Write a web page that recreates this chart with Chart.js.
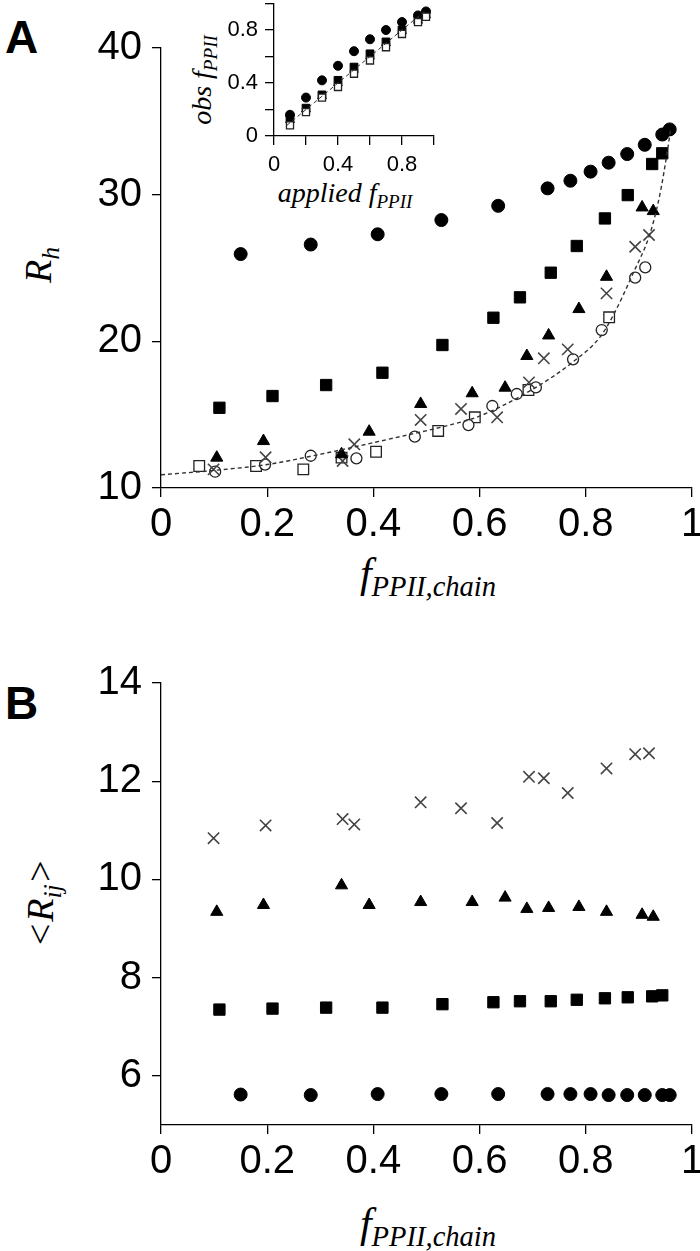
<!DOCTYPE html>
<html>
<head>
<meta charset="utf-8">
<script src="https://cdn.jsdelivr.net/npm/chart.js@4.4.1/dist/chart.umd.min.js"></script>
<style>
  body { margin: 0; width: 700px; height: 1251px; overflow: hidden; background: #fff; position: relative; }
  canvas { position: absolute; }
  .panel { position: absolute; font: bold 46px "Liberation Sans", Arial, sans-serif; line-height: 1; }
  .lbl { position: absolute; white-space: nowrap; font-family: "Liberation Serif", "Times New Roman", serif;
         font-style: italic; line-height: 1; transform: translate(-50%, -50%); }
  .rot { transform: translate(-50%, -50%) rotate(-90deg); }
  .lbl sub { font-size: 0.68em; line-height: 0; vertical-align: -0.32em; }
</style>
</head>
<body>
<div class="panel" style="left:5px;top:14px">A</div>
<div class="panel" style="left:5px;top:680px">B</div>

<div class="lbl rot" style="left:38px;top:265px;font-size:38px">R<sub>h</sub></div>
<div class="lbl" style="left:428px;top:573px;font-size:42px">f<sub>PPII,chain</sub></div>
<div class="lbl rot" style="left:202px;top:80px;font-size:28px">obs f<sub>PPII</sub></div>
<div class="lbl" style="left:345px;top:193px;font-size:28px">applied f<sub>PPII</sub></div>
<div class="lbl rot" style="left:40px;top:903px;font-size:38px">&lt;R<sub>ij</sub>&gt;</div>
<div class="lbl" style="left:428px;top:1223px;font-size:42px">f<sub>PPII,chain</sub></div>

<canvas id="chartA" width="720" height="620" style="left:0;top:0"></canvas>
<canvas id="chartInset" width="300" height="230" style="left:160px;top:-20px"></canvas>
<canvas id="chartB" width="720" height="651" style="left:0;top:600px"></canvas>

<script>
// tick labels
const fTicks = [0, 0.2, 0.4, 0.6, 0.8, 1];
const rhTicks = [10, 20, 30, 40];
const rijTicks = [6, 8, 10, 12, 14];
const insetTicks = [0, 0.2, 0.4, 0.6, 0.8, 1];
const insetLabels = [0, 0.4, 0.8];

// filled circles
const circX   = [0.15, 0.282, 0.408, 0.528, 0.635, 0.728, 0.771, 0.809, 0.843, 0.878, 0.911, 0.944, 0.958];
const circRh  = [25.95, 26.6, 27.3, 28.27, 29.24, 30.43, 30.95, 31.57, 32.18, 32.77, 33.4, 34.1, 34.45];
const circRij = [5.62, 5.61, 5.63, 5.63, 5.63, 5.63, 5.63, 5.63, 5.61, 5.61, 5.61, 5.61, 5.61];

// filled squares
const sqX   = [0.11, 0.21, 0.311, 0.417, 0.53, 0.626, 0.676, 0.734, 0.783, 0.836, 0.879, 0.925, 0.944];
const sqRh  = [15.47, 16.27, 17.02, 17.86, 19.75, 21.61, 23.0, 24.68, 26.5, 28.38, 29.97, 32.09, 32.82];
const sqRij = [7.35, 7.37, 7.39, 7.39, 7.46, 7.50, 7.52, 7.52, 7.55, 7.58, 7.60, 7.62, 7.64];

// filled triangles
const triX   = [0.105, 0.193, 0.340, 0.392, 0.489, 0.586, 0.648, 0.689, 0.730, 0.787, 0.839, 0.906, 0.927];
const triRh  = [12.07, 13.2, 12.3, 13.84, 15.73, 16.46, 16.84, 19.0, 20.4, 22.2, 24.4, 29.13, 28.88];
const triRij = [9.34, 9.48, 9.88, 9.48, 9.54, 9.54, 9.63, 9.40, 9.42, 9.44, 9.34, 9.28, 9.24];

// crosses
const crX   = [0.099, 0.197, 0.342, 0.364, 0.489, 0.565, 0.633, 0.693, 0.721, 0.766, 0.839, 0.893, 0.919];
const crRh  = [11.27, 12.09, 11.84, 12.98, 14.64, 15.39, 14.82, 17.2, 18.84, 19.45, 23.27, 26.45, 27.25];
const crRij = [10.84, 11.10, 11.23, 11.12, 11.57, 11.45, 11.15, 12.09, 12.06, 11.76, 12.26, 12.55, 12.57];

// open circles (A only)
const ocX  = [0.102, 0.196, 0.282, 0.368, 0.478, 0.579, 0.624, 0.670, 0.706, 0.776, 0.830, 0.893, 0.912];
const ocRh = [11.11, 11.6, 12.2, 12.02, 13.5, 14.29, 15.59, 16.41, 16.86, 18.77, 20.77, 24.34, 25.04];

// open squares (A only)
const osX  = [0.072, 0.179, 0.268, 0.340, 0.405, 0.522, 0.591, 0.692, 0.844];
const osRh = [11.5, 11.5, 11.27, 12.07, 12.47, 13.89, 14.82, 16.68, 21.64];

// dashed fit curve in A
const fitX  = [0, 0.1, 0.2, 0.28, 0.45, 0.544, 0.6, 0.7, 0.776, 0.827, 0.852, 0.889, 0.921, 0.94, 0.952, 0.96];
const fitRh = [10.9, 11.2, 11.6, 12.15, 13.5, 14.3, 14.9, 16.73, 18.6, 20.3, 21.8, 24.63, 27.36, 30.1, 32.6, 34.5];

// inset: applied vs observed f_PPII
const appliedF  = [0.1, 0.2, 0.3, 0.4, 0.5, 0.6, 0.7, 0.8, 0.9, 0.95];
const obsCirc   = [0.16, 0.29, 0.42, 0.53, 0.64, 0.73, 0.80, 0.86, 0.91, 0.94];
const obsSq     = [0.13, 0.21, 0.31, 0.42, 0.52, 0.62, 0.71, 0.80, 0.88, 0.92];
const obsTri    = [0.12, 0.20, 0.30, 0.40, 0.50, 0.60, 0.70, 0.79, 0.87, 0.91];
const obsOpenSq = [0.08, 0.18, 0.29, 0.37, 0.47, 0.57, 0.67, 0.77, 0.86, 0.90];
const diagX = [0.08, 0.95];
const diagY = [0.08, 0.95];

const pts = (xs, ys) => xs.map((x, i) => ({ x: x, y: ys[i] }));

function marks(xs, ys, style, r) {
  const base = { data: pts(xs, ys), clip: false, pointRadius: r, pointHoverRadius: r, borderWidth: 1 };
  if (style == 'circ') return Object.assign(base, { pointStyle: 'circle', backgroundColor: '#000', borderColor: '#000' });
  if (style == 'sq') return Object.assign(base, { pointStyle: 'rect', backgroundColor: '#000', borderColor: '#000' });
  if (style == 'tri') return Object.assign(base, { pointStyle: 'triangle', backgroundColor: '#000', borderColor: '#000' });
  if (style == 'cross') return Object.assign(base, { pointStyle: 'crossRot', backgroundColor: '#444', borderColor: '#444', borderWidth: 1.6 });
  if (style == 'ocirc') return Object.assign(base, { pointStyle: 'circle', backgroundColor: '#fff', borderColor: '#222', borderWidth: 1.3 });
  if (style == 'osq') return Object.assign(base, { pointStyle: 'rect', backgroundColor: '#fff', borderColor: '#222', borderWidth: 1.3 });
}

function dashed(xs, ys, w) {
  return { data: pts(xs, ys), showLine: true, pointRadius: 0, borderColor: '#333', borderWidth: w,
           borderDash: [4, 3], cubicInterpolationMode: 'monotone', clip: false };
}

function axis(min, max, ticks, labels, fontSize, pad, fit, vertical) {
  return {
    type: 'linear', min: min, max: max,
    afterBuildTicks: s => { s.ticks = ticks.map(v => ({ value: v })); },
    afterFit: s => { if (vertical) s.width = fit; else s.height = fit; },
    ticks: {
      color: '#000', padding: pad, maxRotation: 0, autoSkip: false,
      font: { family: '"Liberation Sans", Arial, sans-serif', size: fontSize },
      callback: v => labels.includes(v) ? String(v) : ''
    },
    grid: { drawOnChartArea: false, drawTicks: true, tickLength: 9, color: '#000', lineWidth: 1.3 },
    border: { display: true, color: '#000', width: 1.3 }
  };
}

function opts(pad, xAxis, yAxis) {
  return {
    responsive: false, animation: false,
    layout: { padding: pad },
    plugins: { legend: { display: false }, tooltip: { enabled: false } },
    scales: { x: xAxis, y: yAxis }
  };
}

new Chart(document.getElementById('chartA'), {
  type: 'scatter',
  data: { datasets: [
    dashed(fitX, fitRh, 1.4),
    marks(circX, circRh, 'circ', 6.5),
    marks(sqX, sqRh, 'sq', 8),
    marks(triX, triRh, 'tri', 7),
    marks(crX, crRh, 'cross', 8),
    marks(ocX, ocRh, 'ocirc', 5.5),
    marks(osX, osRh, 'osq', 7.5)
  ] },
  options: opts({ left: 0, top: 48, right: 28, bottom: 0 },
    axis(0, 1, fTicks, fTicks, 40, 4, 132, false),
    axis(10, 40, rhTicks, rhTicks, 40, 10, 161, true))
});

new Chart(document.getElementById('chartInset'), {
  type: 'scatter',
  data: { datasets: [
    dashed(diagX, diagY, 1),
    marks(appliedF, obsOpenSq, 'osq', 5),
    marks(appliedF, obsTri, 'tri', 5),
    marks(appliedF, obsSq, 'sq', 5.5),
    marks(appliedF, obsCirc, 'circ', 4.5)
  ] },
  options: opts({ left: 0, top: 23.5, right: 26, bottom: 0 },
    axis(0, 1, insetTicks, insetLabels, 22, 7, 74, false),
    axis(0, 1, insetTicks, insetLabels, 22, 7, 114, true))
});

new Chart(document.getElementById('chartB'), {
  type: 'scatter',
  data: { datasets: [
    marks(circX, circRij, 'circ', 6.5),
    marks(sqX, sqRij, 'sq', 8),
    marks(triX, triRij, 'tri', 7),
    marks(crX, crRij, 'cross', 8)
  ] },
  options: opts({ left: 0, top: 83, right: 28, bottom: 0 },
    axis(0, 1, fTicks, fTicks, 40, 4, 126, false),
    axis(5, 14, rijTicks, rijTicks, 40, 10, 161, true))
});
</script>
</body>
</html>
